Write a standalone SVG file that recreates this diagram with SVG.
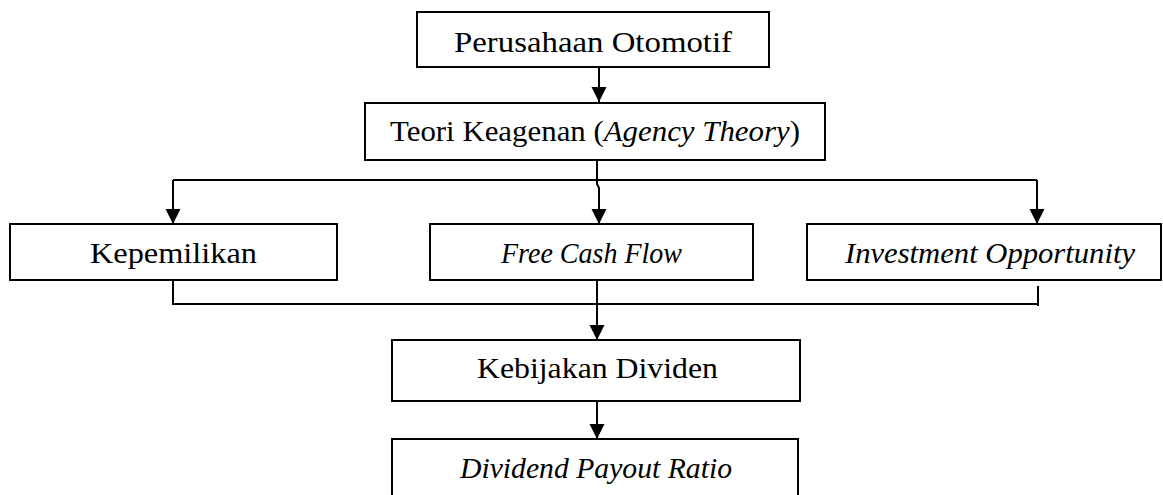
<svg xmlns="http://www.w3.org/2000/svg" width="1163" height="495" viewBox="0 0 1163 495">
<style>
.box{fill:#fff;stroke:#000;stroke-width:2}
.t{font-family:"Liberation Serif","DejaVu Serif",serif;font-size:30px;fill:#000}
.i{font-style:italic}
.c{fill:none;stroke:#000;stroke-width:2}
</style>
<defs>
<marker id="ah" markerUnits="userSpaceOnUse" markerWidth="16" markerHeight="16" refX="15" refY="7.5" orient="auto">
<path d="M0,0 L15,7.5 L0,15 Z" fill="#000"/>
</marker>
</defs>
<rect width="1163" height="495" fill="#fff"/>
<g id="connectors">
<path class="c" d="M599,67 V102" marker-end="url(#ah)"/>
<path class="c" d="M597,160 V184 L599,188 V224" marker-end="url(#ah)"/>
<path class="c" d="M173,180 H1037"/>
<path class="c" d="M173,180 V224" marker-end="url(#ah)"/>
<path class="c" d="M1037,180 V224" marker-end="url(#ah)"/>
<path class="c" d="M173,280 V304 H1038"/>
<path class="c" d="M1038,286 V306"/>
<path class="c" d="M597,281 V340" marker-end="url(#ah)"/>
<path class="c" d="M597,401 V439" marker-end="url(#ah)"/>
</g>
<g id="n1"><rect class="box" x="417" y="12" width="352" height="55"/><text class="t" x="454" y="52" textLength="278" lengthAdjust="spacingAndGlyphs">Perusahaan Otomotif</text></g>
<g id="n2"><rect class="box" x="365" y="103" width="460" height="57"/><text class="t" x="390" y="141" textLength="410" lengthAdjust="spacingAndGlyphs">Teori Keagenan (<tspan class="i">Agency Theory</tspan>)</text></g>
<g id="n3"><rect class="box" x="10" y="224" width="327" height="56"/><text class="t" x="90" y="263" textLength="167" lengthAdjust="spacingAndGlyphs">Kepemilikan</text></g>
<g id="n4"><rect class="box" x="430" y="224" width="323" height="56"/><text class="t i" x="501" y="263" textLength="181" lengthAdjust="spacingAndGlyphs">Free Cash Flow</text></g>
<g id="n5"><rect class="box" x="807" y="224" width="354" height="56"/><text class="t i" x="845" y="263" textLength="290" lengthAdjust="spacingAndGlyphs">Investment Opportunity</text></g>
<g id="n6"><rect class="box" x="392" y="340" width="408" height="61"/><text class="t" x="477" y="378" textLength="241" lengthAdjust="spacingAndGlyphs">Kebijakan Dividen</text></g>
<g id="n7"><rect class="box" x="392" y="439" width="406" height="70"/><text class="t i" x="460" y="478" textLength="272" lengthAdjust="spacingAndGlyphs">Dividend Payout Ratio</text></g>
</svg>
